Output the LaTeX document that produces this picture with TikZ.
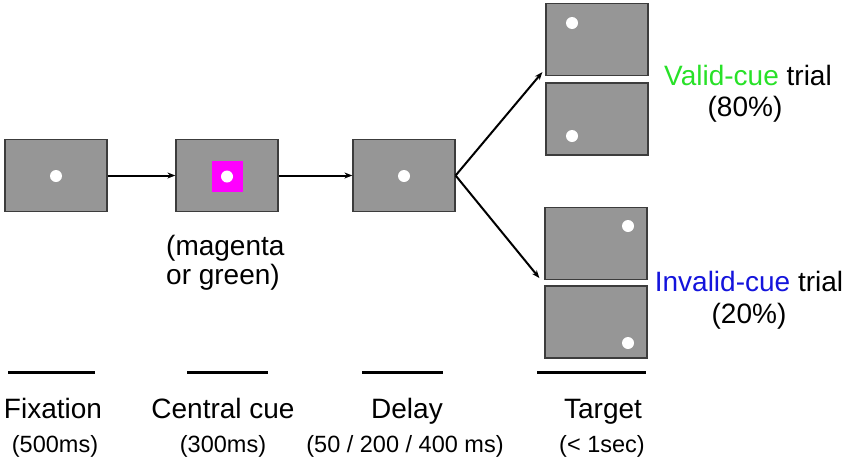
\documentclass[tikz,border=0pt]{standalone}
\usepackage{fontspec}
\setmainfont{Liberation Sans}
\usetikzlibrary{arrows.meta}
\definecolor{screengray}{RGB}{150,150,150}
\definecolor{screenborder}{RGB}{60,60,60}
\definecolor{vgreen}{RGB}{40,225,40}
\definecolor{iblue}{RGB}{20,20,220}
\definecolor{cuemag}{RGB}{255,0,255}
\tikzset{
  screen/.style={draw=screenborder, fill=screengray, line width=1.2pt, minimum width=102pt, minimum height=72pt, inner sep=0pt},
  dot/.style={circle, fill=white, minimum size=12pt, inner sep=0pt},
  cuesq/.style={fill=cuemag, minimum size=31pt, inner sep=0pt},
  conn/.style={line width=2pt, -{Stealth[length=8pt,width=6pt]}},
  bigtxt/.style={font=\fontsize{28}{30}\selectfont, inner sep=0pt},
  smalltxt/.style={font=\fontsize{23.5}{26}\selectfont, inner sep=0pt},
  timebar/.style={line width=3pt}
}
\begin{document}
\begin{tikzpicture}[x=1pt,y=-1pt]
\useasboundingbox (0,0) rectangle (850,461);
% screens
\node[screen] (fix) at (56,175.5) {};
\node[dot] (fixdot) at (56,176) {};
\node[screen] (cue) at (227,175.5) {};
\node[cuesq] (cuesquare) at (227,176.5) {};
\node[dot] (cuedot) at (227,176.5) {};
\node[screen] (delay) at (404,175.5) {};
\node[dot] (delaydot) at (404,176) {};
\node[screen] (tv1) at (597,39.5) {};
\node[dot] (tv1dot) at (572,23) {};
\node[screen] (tv2) at (597,119) {};
\node[dot] (tv2dot) at (572,136) {};
\node[screen] (ti1) at (596,243.5) {};
\node[dot] (ti1dot) at (628,226) {};
\node[screen] (ti2) at (596,322) {};
\node[dot] (ti2dot) at (628,343) {};
% connectors
\draw[conn] (fix.east) -- (cue.west);
\draw[conn] (cue.east) -- (delay.west);
\draw[conn] (delay.east) -- ([shift={(-3,-4)}]tv1.south west);
\draw[conn] (delay.east) -- ([shift={(-5,-2)}]ti1.south west);
% cue label
\node[bigtxt, anchor=base west] (mag1) at (166,255) {(magenta};
\node[bigtxt, anchor=base west] (mag2) at (166,284) {or green)};
% trial labels
\node[bigtxt, anchor=base] (valid) at (748,85) {\textcolor{vgreen}{Valid-cue} trial};
\node[bigtxt, anchor=base] (validp) at (745,116) {(80\%)};
\node[bigtxt, anchor=base] (invalid) at (749,291) {\textcolor{iblue}{Invalid-cue} trial};
\node[bigtxt, anchor=base] (invalidp) at (749,323) {(20\%)};
% time bars
\coordinate (b1a) at (8,372); \coordinate (b1b) at (95,372);
\coordinate (b2a) at (187,372); \coordinate (b2b) at (268,372);
\coordinate (b3a) at (362,372); \coordinate (b3b) at (443,372);
\coordinate (b4a) at (537,372); \coordinate (b4b) at (646,372);
\draw[timebar] (b1a) -- (b1b);
\draw[timebar] (b2a) -- (b2b);
\draw[timebar] (b3a) -- (b3b);
\draw[timebar] (b4a) -- (b4b);
% phase labels
\node[bigtxt, anchor=base] (lfix) at (53,418) {Fixation};
\node[bigtxt, anchor=base] (lcue) at (223,418) {Central cue};
\node[bigtxt, anchor=base] (ldel) at (407,418) {Delay};
\node[bigtxt, anchor=base] (ltar) at (603,418) {Target};
\node[smalltxt, anchor=base] (tfix) at (55,452) {(500ms)};
\node[smalltxt, anchor=base] (tcue) at (223,452) {(300ms)};
\node[smalltxt, anchor=base] (tdel) at (405,452) {(50 / 200 / 400 ms)};
\node[smalltxt, anchor=base] (ttar) at (602,452) {(< 1sec)};
\end{tikzpicture}
\end{document}
